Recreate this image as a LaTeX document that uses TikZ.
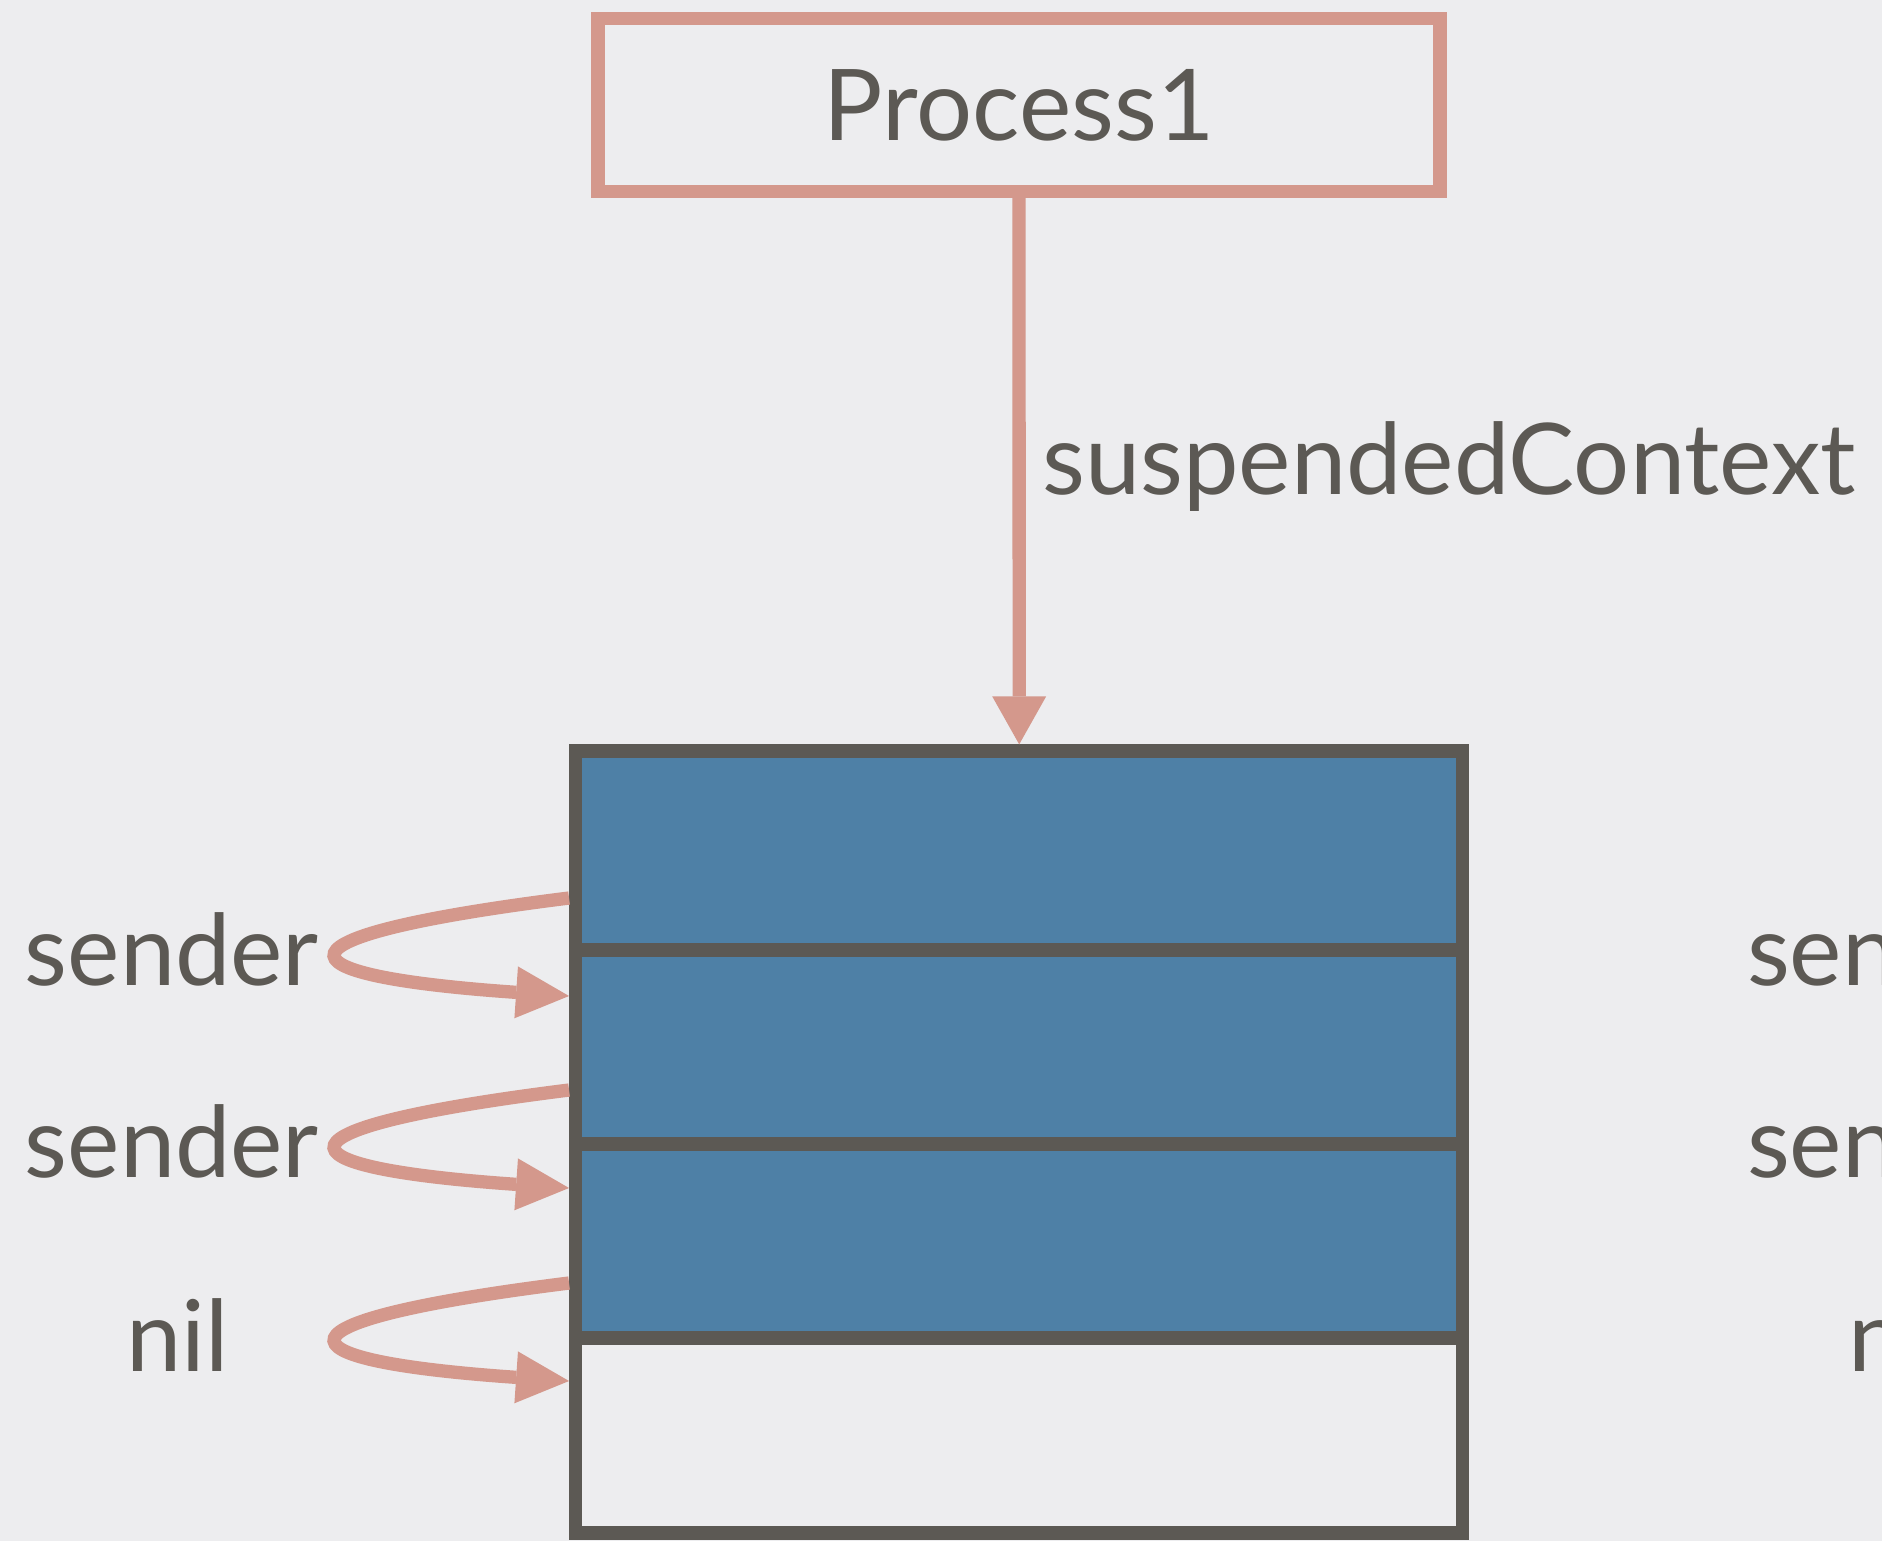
\documentclass[tikz,border=0pt]{standalone}
\usepackage{fontspec}
\setmainfont{Lato}
\usetikzlibrary{arrows.meta,calc}
\definecolor{bg}{HTML}{EDEDEF}
\definecolor{pinkc}{HTML}{D4988C}
\definecolor{darkc}{HTML}{5C5954}
\definecolor{bluec}{HTML}{4E80A6}
\begin{document}
\begin{tikzpicture}[x=0.5pt,y=-0.5pt,
  txt/.style={font=\fontsize{49.5pt}{59pt}\selectfont, text=darkc},
  lbl/.style={txt, inner sep=0pt, anchor=base west},
  procbox/.style={txt, draw=pinkc, line width=6.65pt, fill=bg, minimum width=421pt, minimum height=86.2pt, inner sep=0pt},
  cell/.style={draw=darkc, line width=6.65pt, minimum width=443.5pt, inner sep=0pt},
  link/.style={draw=pinkc, line width=6.65pt, -{Triangle[length=26.5pt,width=26pt,line width=0pt]}},
  vlink/.style={draw=pinkc, line width=6.65pt, -{Triangle[length=24pt,width=27pt,line width=0pt]}},
]
\useasboundingbox (0,0) rectangle (1882,1541);
\fill[bg] (0,0) rectangle (1882,1541);
\clip (0,0) rectangle (1882,1541);

\node[procbox] (proc) at (1019,105) {Process1};

\node[cell, fill=bluec, minimum height=99.5pt] (cell1) at (1019.2,850.5) {};
\node[cell, fill=bluec, minimum height=97pt] (cell2) at (1019.2,1047) {};
\node[cell, fill=bluec, minimum height=97pt] (cell3) at (1019.2,1241) {};
\node[cell, minimum height=97.5pt] (cell4) at (1019.2,1435.5) {};

\draw[vlink] (proc.south) -- (cell1.north);
\node[lbl] (sc) at (1042,494) {suspendedContext};

\node[lbl] (s1) at (24.5,985) {sender};
\node[lbl] (s2) at (24.5,1177) {sender};
\node[lbl] (n1) at (125.7,1371) {nil};
\node[lbl] (s1r) at (1746.7,985) {sender};
\node[lbl] (s2r) at (1746.7,1177) {sender};
\node[lbl] (n1r) at (1848,1371) {nil};

\draw[link] ($(cell1.west)+(0,47.5)$) .. controls +(-304,38) and +(-304,-21) .. ($(cell2.west)+(0,-51)$);
\draw[link] ($(cell2.west)+(0,43)$) .. controls +(-304,38) and +(-304,-21) .. ($(cell3.west)+(0,-53)$);
\draw[link] ($(cell3.west)+(0,42)$) .. controls +(-304,38) and +(-304,-21) .. ($(cell4.west)+(0,-54.5)$);
\end{tikzpicture}
\end{document}
